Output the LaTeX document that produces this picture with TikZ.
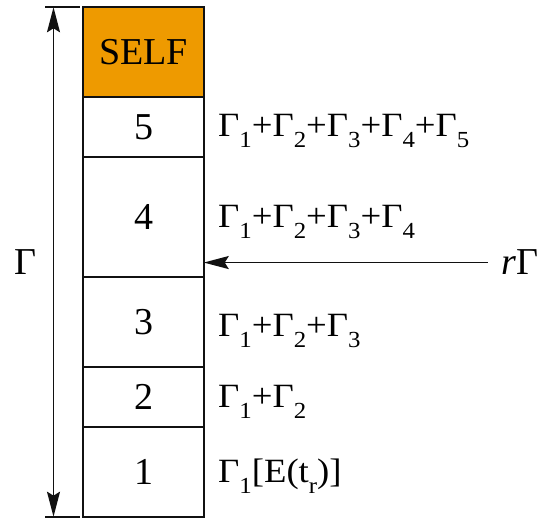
\documentclass[tikz,border=0pt]{standalone}
\usepackage{fontspec}
\setmainfont{LiberationSerif}[Extension=.ttf,UprightFont=*-Regular,ItalicFont=*-Italic,BoldFont=*-Bold]
\newfontfamily\sumfont{LiberationSerif}[Extension=.ttf,UprightFont=*-Regular,ItalicFont=*-Italic,FakeStretch=1.08]
\usepackage{tikz}
\usetikzlibrary{arrows.meta,positioning}
\definecolor{selforange}{HTML}{EE9A00}
\definecolor{ink}{HTML}{111111}
\newcommand{\gsub}[1]{\raisebox{-11pt}{\fontsize{23}{23}\selectfont #1}}

\begin{document}
\begin{tikzpicture}[
  x=1pt,y=-1pt,
  >={Stealth[length=25pt,width=13pt,inset=4pt]},
  seg/.style={draw=ink,line width=2pt,minimum width=120.5pt,inner sep=0pt,outer sep=0pt,font=\fontsize{38}{40}\selectfont},
  sumlbl/.style={anchor=base west,inner sep=0pt,font=\sumfont\fontsize{34}{36}\selectfont},
  biglbl/.style={inner sep=0pt,font=\fontsize{38}{40}\selectfont},
  arr/.style={draw=ink,line width=1.8pt},
  tick/.style={draw=ink,line width=2pt}
]
\useasboundingbox (0,0) rectangle (539,518);
% --- the stack of regions ------------------------------------------------
\node[seg,fill=selforange,minimum height=90.2pt] (self) at (143.5,52.4) {SELF};
\node[seg,minimum height=59.8pt] (s5) at (143.5,127.4) {5};
\node[seg,minimum height=119.7pt] (s4) at (143.5,217.15) {4};
\node[seg,minimum height=89.7pt] (s3) at (143.5,321.85) {3};
\node[seg,minimum height=60pt] (s2) at (143.5,396.7) {2};
\node[seg,minimum height=90pt] (s1) at (143.5,471.7) {1};
% --- cumulative sums ------------------------------------------------------
\node[sumlbl] (g5) at (218,137) {Γ\gsub{1}+Γ\gsub{2}+Γ\gsub{3}+Γ\gsub{4}+Γ\gsub{5}};
\node[sumlbl] (g4) at (218,228) {Γ\gsub{1}+Γ\gsub{2}+Γ\gsub{3}+Γ\gsub{4}};
\node[sumlbl] (g3) at (218,337) {Γ\gsub{1}+Γ\gsub{2}+Γ\gsub{3}};
\node[sumlbl] (g2) at (218,408) {Γ\gsub{1}+Γ\gsub{2}};
\node[sumlbl] (g1) at (218,483) {Γ\gsub{1}[E(t\gsub{r})]};
% --- total span on the left ----------------------------------------------
\coordinate (spt) at (53.5,7.3);
\coordinate (spb) at (53.5,516.7);
\draw[tick] ([xshift=-8.5pt]spt) -- ([xshift=26.5pt]spt);
\draw[tick] ([xshift=-8.5pt]spb) -- ([xshift=26.5pt]spb);
\draw[arr,<->] (spt) -- (spb);
\node[biglbl,anchor=base] (gam) at (25,275) {Γ};
% --- incoming r Gamma -----------------------------------------------------
\node[biglbl,anchor=base east] (rlab) at (539,275) {\textit{r}Γ};
\draw[arr,->] ([xshift=-14pt]rlab.west) -- (rlab.west -| s4.east);
\end{tikzpicture}
\end{document}
